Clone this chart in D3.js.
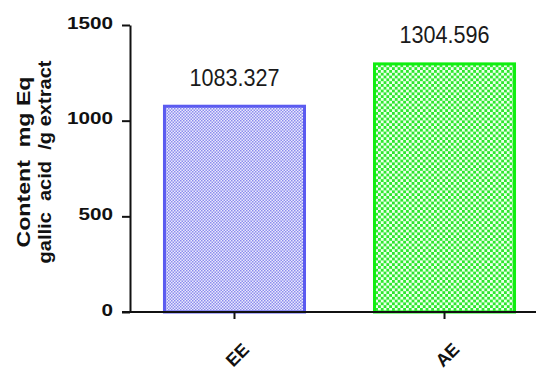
<!DOCTYPE html>
<html><head><meta charset="utf-8">
<script src="https://cdn.jsdelivr.net/npm/d3@7"></script>
<style>body{margin:0;background:#fff}svg{display:block}text.pre{white-space:pre}</style>
</head><body>
<svg id="c" width="539" height="374"></svg>
<script>
const categories = ["EE", "AE"];
const values = [1083.327, 1304.596];
const valueLabels = ["1083.327", "1304.596"];
const yTicks = [0, 500, 1000, 1500];
const yLabelLines = ["Content  mg Eq", "gallic  acid  /g extract"];
const strokeColors = ["#5b5bf0", "#10ee10"];

const svg = d3.select("#c");
const defs = svg.append("defs");
const p1 = defs.append("pattern").attr("id","pat0").attr("patternUnits","userSpaceOnUse").attr("width",3).attr("height",3);
p1.append("rect").attr("width",3).attr("height",3).attr("fill","#eaeafc");
p1.append("rect").attr("width",1.5).attr("height",1.5).attr("fill","#8c8cee");
p1.append("rect").attr("x",1.5).attr("y",1.5).attr("width",1.5).attr("height",1.5).attr("fill","#8c8cee");
const p2 = defs.append("pattern").attr("id","pat1").attr("patternUnits","userSpaceOnUse").attr("width",5.6).attr("height",5.6);
p2.append("rect").attr("width",5.6).attr("height",5.6).attr("fill","#eeffee");
p2.append("rect").attr("width",2.8).attr("height",2.8).attr("fill","#2ee82e");
p2.append("rect").attr("x",2.8).attr("y",2.8).attr("width",2.8).attr("height",2.8).attr("fill","#2ee82e");

const x = d3.scaleBand().domain(categories).range([130, 549]).paddingInner(0.319).paddingOuter(0.157);
const y = d3.scaleLinear().domain([0, 1500]).range([312, 25]);

svg.selectAll("rect.bar").data(values).join("rect").attr("class","bar")
  .attr("x",(d,i)=>x(categories[i])+1.5)
  .attr("y",d=>y(d)+1.5)
  .attr("width",x.bandwidth()-3)
  .attr("height",d=>y(0)-y(d)-1.5)
  .attr("fill",(d,i)=>`url(#pat${i})`)
  .attr("stroke",(d,i)=>strokeColors[i])
  .attr("stroke-width",3);

svg.selectAll("text.val").data(values).join("text").attr("class","val")
  .attr("x",(d,i)=>x(categories[i])+x.bandwidth()/2)
  .attr("y",d=>y(d)-19)
  .attr("text-anchor","middle")
  .attr("font-family","Liberation Sans, Arial, sans-serif")
  .attr("font-size",24)
  .attr("fill","#1a1a1a")
  .attr("textLength",90).attr("lengthAdjust","spacingAndGlyphs")
  .text((d,i)=>valueLabels[i]);

const yAxis = d3.axisLeft(y).tickValues(yTicks).tickSize(8).tickSizeOuter(0).tickPadding(9).tickFormat(d3.format("d"));
const gy = svg.append("g").attr("transform","translate(130,0)").call(yAxis);
gy.select(".domain").attr("stroke","#111").attr("stroke-width",2);
gy.selectAll(".tick line").attr("stroke","#111").attr("stroke-width",2);
gy.selectAll(".tick text")
  .attr("font-family","Liberation Sans, Arial, sans-serif").attr("font-weight","bold").attr("font-size",16)
  .attr("fill","#111").attr("dy","0.2em")
  .attr("textLength",function(){return this.textContent.length*11.5;}).attr("lengthAdjust","spacingAndGlyphs");

const xAxis = d3.axisBottom(x).tickSize(7).tickSizeOuter(0).tickFormat("");
const gx = svg.append("g").attr("transform",`translate(0,${y(0)})`).call(xAxis);
gx.select(".domain").remove();
gx.selectAll(".tick line").attr("stroke","#111").attr("stroke-width",2);
svg.append("line").attr("x1",122).attr("x2",536).attr("y1",y(0)).attr("y2",y(0)).attr("stroke","#111").attr("stroke-width",2);

svg.selectAll("text.xl").data(categories).join("text").attr("class","xl")
  .attr("transform",d=>`translate(${x(d)+x.bandwidth()/2+3},355) rotate(-45)`)
  .attr("text-anchor","middle").attr("dominant-baseline","central")
  .attr("font-family","Liberation Sans, Arial, sans-serif").attr("font-weight","bold").attr("font-size",18)
  .attr("fill","#111")
  .text(d=>d);

const ylg = svg.append("g").attr("font-family","Liberation Sans, Arial, sans-serif").attr("font-weight","bold")
  .attr("font-size",19).attr("fill","#111").attr("text-anchor","middle");
ylg.append("text").attr("class","pre").attr("transform","translate(30,162) rotate(-90)")
  .attr("textLength",171).attr("lengthAdjust","spacingAndGlyphs").text(yLabelLines[0]);
ylg.append("text").attr("class","pre").attr("transform","translate(51,162) rotate(-90)")
  .attr("textLength",203).attr("lengthAdjust","spacingAndGlyphs").text(yLabelLines[1]);
</script>
</body></html>
